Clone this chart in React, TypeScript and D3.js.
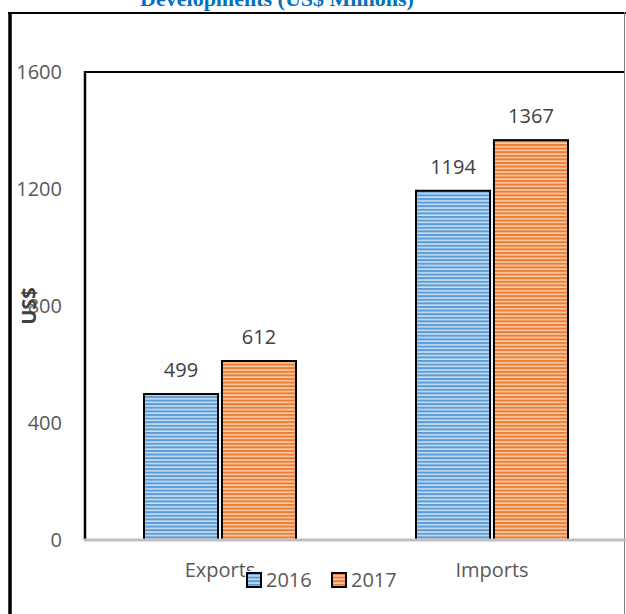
import React from "react";
import * as d3 from "d3";

const categories = ["Exports", "Imports"];
const seriesNames = ["2016", "2017"];
const values2016 = [499, 1194];
const values2017 = [612, 1367];
const yTicks = [0, 400, 800, 1200, 1600];
const titleText = "Developments (US$ Millions)";
const yTitle = "US$";

const W = 626;
const H = 614;
const FONT = "'Open Sans', 'Noto Sans', sans-serif";

export default function App() {
  const y = d3.scaleLinear().domain([0, 1600]).range([540, 72]);
  const x0 = d3.scaleBand<string>().domain(categories).range([84, 628]).padding(0);
  const x1 = d3.scaleBand<string>().domain(seriesNames).range([0, 152]).paddingInner(0.05);
  const offset = (x0.bandwidth() - 152) / 2;
  const seriesValues = [values2016, values2017];
  const patIds = ["patBlue", "patOrange"];

  return (
    <div style={{ position: "fixed", left: 0, top: 0, width: W, height: H, background: "#fff" }}>
      <svg width={W} height={H} viewBox={`0 0 ${W} ${H}`} style={{ display: "block" }}>
        <defs>
          <pattern id="patBlue" patternUnits="userSpaceOnUse" width="8" height="3.6">
            <rect width="8" height="3.6" fill="#C9DEF2" />
            <rect width="8" height="2" fill="#5B9BD5" />
          </pattern>
          <pattern id="patOrange" patternUnits="userSpaceOnUse" width="8" height="3.6">
            <rect width="8" height="3.6" fill="#F8CDAE" />
            <rect width="8" height="2" fill="#ED7D31" />
          </pattern>
        </defs>
        <rect x={0} y={0} width={W} height={H} fill="#fff" />
        {/* title (clipped at top, as in the reference) */}
        <text x={277} y={6} textAnchor="middle" fill="#0070C0" fontFamily="'Liberation Serif', serif" fontWeight="bold" fontSize={22}>
          {titleText}
        </text>
        {/* outer frame */}
        <line x1={8} x2={626} y1={13} y2={13} stroke="#000" strokeWidth={2} />
        <line x1={10} x2={10} y1={12} y2={614} stroke="#000" strokeWidth={3.5} />
        <line x1={624.5} x2={624.5} y1={12} y2={614} stroke="#7f7f7f" strokeWidth={1} />
        {/* inner plot frame */}
        <line x1={84} x2={624} y1={72} y2={72} stroke="#000" strokeWidth={2} />
        <line x1={85} x2={85} y1={71} y2={540} stroke="#000" strokeWidth={2.5} />
        {/* bars */}
        {categories.map((c, ci) => (
          <g key={c} transform={`translate(${(x0(c) as number) + offset},0)`}>
            {seriesNames.map((s, si) => {
              const v = seriesValues[si][ci];
              const bx = x1(s) as number;
              const bw = x1.bandwidth();
              return (
                <g key={s}>
                  <rect x={bx} y={y(v)} width={bw} height={y(0) - y(v)} fill={`url(#${patIds[si]})`} stroke="#000" strokeWidth={2} />
                  <text x={bx + bw / 2} y={y(v) - 17} textAnchor="middle" fill="#404040" fontFamily={FONT} fontSize={20}>
                    {v}
                  </text>
                </g>
              );
            })}
          </g>
        ))}
        {/* x axis baseline */}
        <line x1={84} x2={626} y1={y(0)} y2={y(0)} stroke="#BFBFBF" strokeWidth={3} />
        {/* y tick labels */}
        {yTicks.map((t) => (
          <text key={t} x={62} y={y(t)} dy="0.35em" textAnchor="end" fill="#595959" fontFamily={FONT} fontSize={20}>
            {t}
          </text>
        ))}
        {/* y axis title */}
        <text transform={`translate(36,306) rotate(-90)`} textAnchor="middle" fill="#404040" fontFamily={FONT} fontWeight="bold" fontSize={20}>
          {yTitle}
        </text>
        {/* category labels */}
        {categories.map((c) => (
          <text key={c} x={(x0(c) as number) + x0.bandwidth() / 2} y={577} textAnchor="middle" fill="#595959" fontFamily={FONT} fontSize={20}>
            {c}
          </text>
        ))}
        {/* legend */}
        <rect x={245} y={571} width={157} height={23} fill="#fff" />
        {seriesNames.map((s, i) => (
          <g key={s} transform={`translate(${247 + i * 85},573)`}>
            <rect x={0} y={0} width={14} height={14} fill={`url(#${patIds[i]})`} stroke="#000" strokeWidth={2} />
            <text x={19} y={14} fill="#595959" fontFamily={FONT} fontSize={20}>
              {s}
            </text>
          </g>
        ))}
      </svg>
    </div>
  );
}
